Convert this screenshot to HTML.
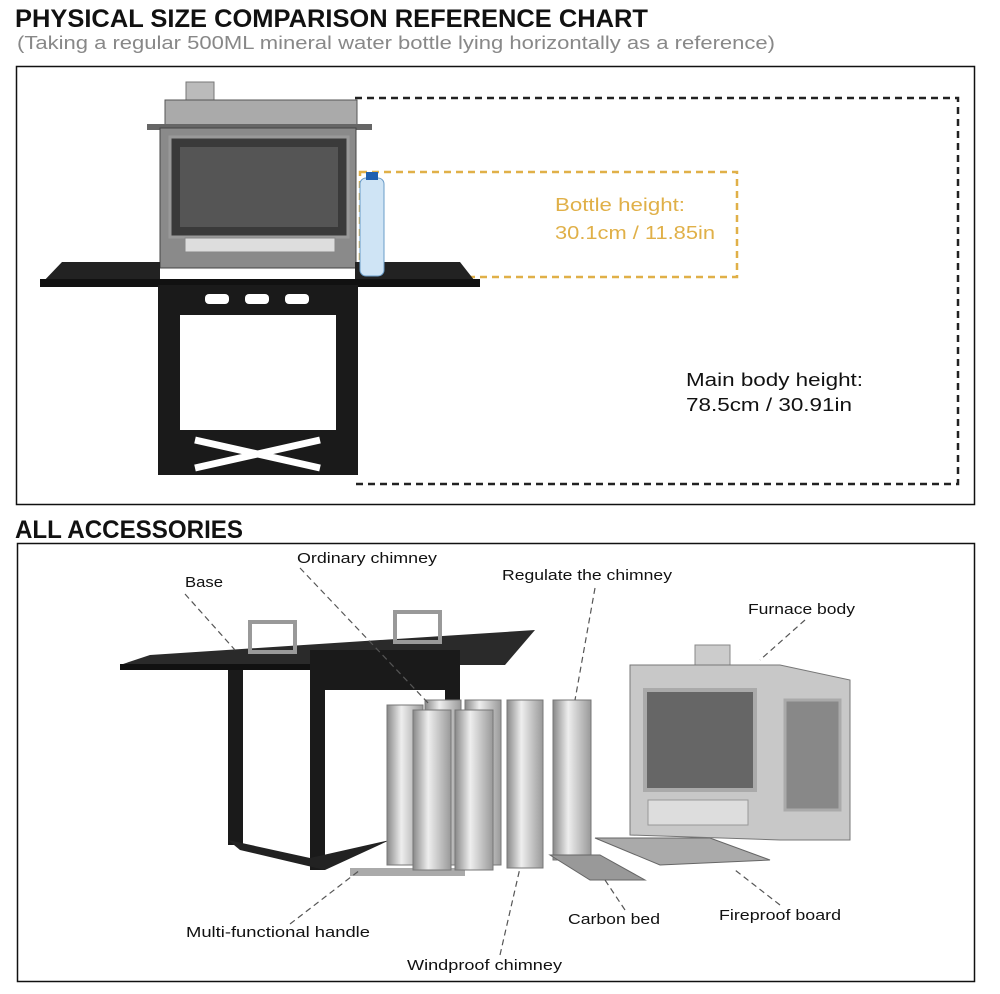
<!DOCTYPE html>
<html><head><meta charset="utf-8"><style>
body{margin:0;background:#fff;}
svg{display:block;font-family:"Liberation Sans",sans-serif;}
</style></head><body>
<svg width="1000" height="994" viewBox="0 0 1000 994">
<defs>
<linearGradient id="pipe" x1="0" x2="1"><stop offset="0" stop-color="#888"/><stop offset="0.4" stop-color="#eee"/><stop offset="1" stop-color="#999"/></linearGradient>
</defs>
<text x="15" y="27" font-size="25" font-weight="bold" fill="#111" textLength="633" lengthAdjust="spacingAndGlyphs">PHYSICAL SIZE COMPARISON REFERENCE CHART</text>
<text x="17" y="49" font-size="18" fill="#888" textLength="758" lengthAdjust="spacingAndGlyphs">(Taking a regular 500ML mineral water bottle lying horizontally as a reference)</text>
<rect x="16.5" y="66.5" width="958" height="438" fill="none" stroke="#111" stroke-width="1.5"/>
<path d="M355 98 H958 V484 H355" fill="none" stroke="#222" stroke-width="2.5" stroke-dasharray="7,5"/>
<rect x="360" y="172" width="377" height="105" fill="none" stroke="#e0b048" stroke-width="2.5" stroke-dasharray="7,5"/>
<text x="555" y="211" font-size="18" fill="#e0b048" textLength="130" lengthAdjust="spacingAndGlyphs">Bottle height:</text>
<text x="555" y="239" font-size="18" fill="#e0b048" textLength="160" lengthAdjust="spacingAndGlyphs">30.1cm / 11.85in</text>
<text x="686" y="386" font-size="18" fill="#111" textLength="177" lengthAdjust="spacingAndGlyphs">Main body height:</text>
<text x="686" y="411" font-size="18" fill="#111" textLength="166" lengthAdjust="spacingAndGlyphs">78.5cm / 30.91in</text>
<!-- stove top -->
<rect x="186" y="82" width="28" height="22" fill="#bbb" stroke="#777"/>
<rect x="165" y="100" width="192" height="26" fill="#aaa" stroke="#555"/>
<rect x="147" y="124" width="225" height="6" fill="#666"/>
<rect x="160" y="128" width="196" height="140" fill="#8a8a8a" stroke="#444"/>
<rect x="170" y="137" width="178" height="100" fill="#3a3a3a" stroke="#999" stroke-width="3"/>
<rect x="180" y="147" width="158" height="80" fill="#555"/>
<rect x="185" y="238" width="150" height="14" fill="#ddd" stroke="#888"/>
<!-- shelves -->
<polygon points="62,262 160,262 160,285 40,285" fill="#222"/>
<polygon points="355,262 460,262 478,285 355,285" fill="#222"/>
<rect x="40" y="279" width="440" height="8" fill="#111"/>
<!-- bottle -->
<rect x="360" y="178" width="24" height="98" rx="6" fill="#cfe4f5" stroke="#6a9cc8"/>
<rect x="366" y="172" width="12" height="8" fill="#2060b0"/>
<!-- stand -->
<rect x="158" y="285" width="200" height="30" fill="#1a1a1a"/>
<rect x="205" y="294" width="24" height="10" rx="4" fill="#fff"/>
<rect x="245" y="294" width="24" height="10" rx="4" fill="#fff"/>
<rect x="285" y="294" width="24" height="10" rx="4" fill="#fff"/>
<rect x="158" y="285" width="22" height="190" fill="#1a1a1a"/>
<rect x="336" y="285" width="22" height="190" fill="#1a1a1a"/>
<rect x="158" y="430" width="200" height="45" fill="#1a1a1a"/>
<path d="M195 440 L320 468 M195 468 L320 440" stroke="#fff" stroke-width="7"/>
<text x="15" y="538" font-size="25" font-weight="bold" fill="#111" textLength="228" lengthAdjust="spacingAndGlyphs">ALL ACCESSORIES</text>
<rect x="17.5" y="543.5" width="957" height="438" fill="none" stroke="#111" stroke-width="1.5"/>
<!-- base -->
<polygon points="150,655 535,630 505,665 120,665" fill="#2a2a2a"/>
<rect x="120" y="664" width="340" height="6" fill="#111"/>
<rect x="250" y="622" width="45" height="30" fill="none" stroke="#999" stroke-width="4"/>
<rect x="395" y="612" width="45" height="30" fill="none" stroke="#999" stroke-width="4"/>
<rect x="228" y="670" width="15" height="175" fill="#1a1a1a"/>
<rect x="310" y="665" width="15" height="205" fill="#1a1a1a"/>
<rect x="445" y="650" width="15" height="50" fill="#1a1a1a"/>
<rect x="310" y="650" width="150" height="40" fill="#1a1a1a"/>
<polygon points="228,840 310,858 390,840 325,870 240,850" fill="#222"/>
<rect x="350" y="868" width="115" height="8" fill="#aaa"/>
<!-- pipes -->
<g fill="url(#pipe)" stroke="#777">
<rect x="387" y="705" width="36" height="160"/>
<rect x="425" y="700" width="36" height="165"/>
<rect x="465" y="700" width="36" height="165"/>
<rect x="507" y="700" width="36" height="168"/>
<rect x="413" y="710" width="38" height="160"/>
<rect x="455" y="710" width="38" height="160"/>
<rect x="553" y="700" width="38" height="160"/>
</g>
<!-- carbon bed & board -->
<polygon points="550,855 600,855 645,880 590,880" fill="#999" stroke="#666"/>
<polygon points="595,838 710,838 770,860 660,865" fill="#aaa" stroke="#666"/>
<!-- furnace -->
<rect x="695" y="645" width="35" height="28" fill="#ccc" stroke="#888"/>
<polygon points="630,665 780,665 850,680 850,840 780,840 630,835" fill="#c8c8c8" stroke="#777"/>
<rect x="645" y="690" width="110" height="100" fill="#666" stroke="#aaa" stroke-width="4"/>
<rect x="785" y="700" width="55" height="110" fill="#888" stroke="#aaa" stroke-width="3"/>
<rect x="648" y="800" width="100" height="25" fill="#ddd" stroke="#999"/>
<!-- labels -->
<g font-size="15" fill="#111" lengthAdjust="spacingAndGlyphs">
<text x="185" y="587" textLength="38" lengthAdjust="spacingAndGlyphs">Base</text>
<text x="297" y="563" textLength="140" lengthAdjust="spacingAndGlyphs">Ordinary chimney</text>
<text x="502" y="580" textLength="170" lengthAdjust="spacingAndGlyphs">Regulate the chimney</text>
<text x="748" y="614" textLength="107" lengthAdjust="spacingAndGlyphs">Furnace body</text>
<text x="186" y="937" textLength="184" lengthAdjust="spacingAndGlyphs">Multi-functional handle</text>
<text x="568" y="924" textLength="92" lengthAdjust="spacingAndGlyphs">Carbon bed</text>
<text x="719" y="920" textLength="122" lengthAdjust="spacingAndGlyphs">Fireproof board</text>
<text x="407" y="970" textLength="155" lengthAdjust="spacingAndGlyphs">Windproof chimney</text>
</g>
<g fill="none" stroke="#555" stroke-width="1.2" stroke-dasharray="6,4">
<line x1="185" y1="594" x2="235" y2="650"/>
<line x1="300" y1="568" x2="430" y2="705"/>
<line x1="595" y1="588" x2="575" y2="700"/>
<line x1="805" y1="620" x2="760" y2="660"/>
<line x1="290" y1="924" x2="360" y2="870"/>
<line x1="625" y1="910" x2="605" y2="880"/>
<line x1="780" y1="905" x2="735" y2="870"/>
<line x1="500" y1="955" x2="520" y2="868"/>
</g>
</svg>
</body></html>
